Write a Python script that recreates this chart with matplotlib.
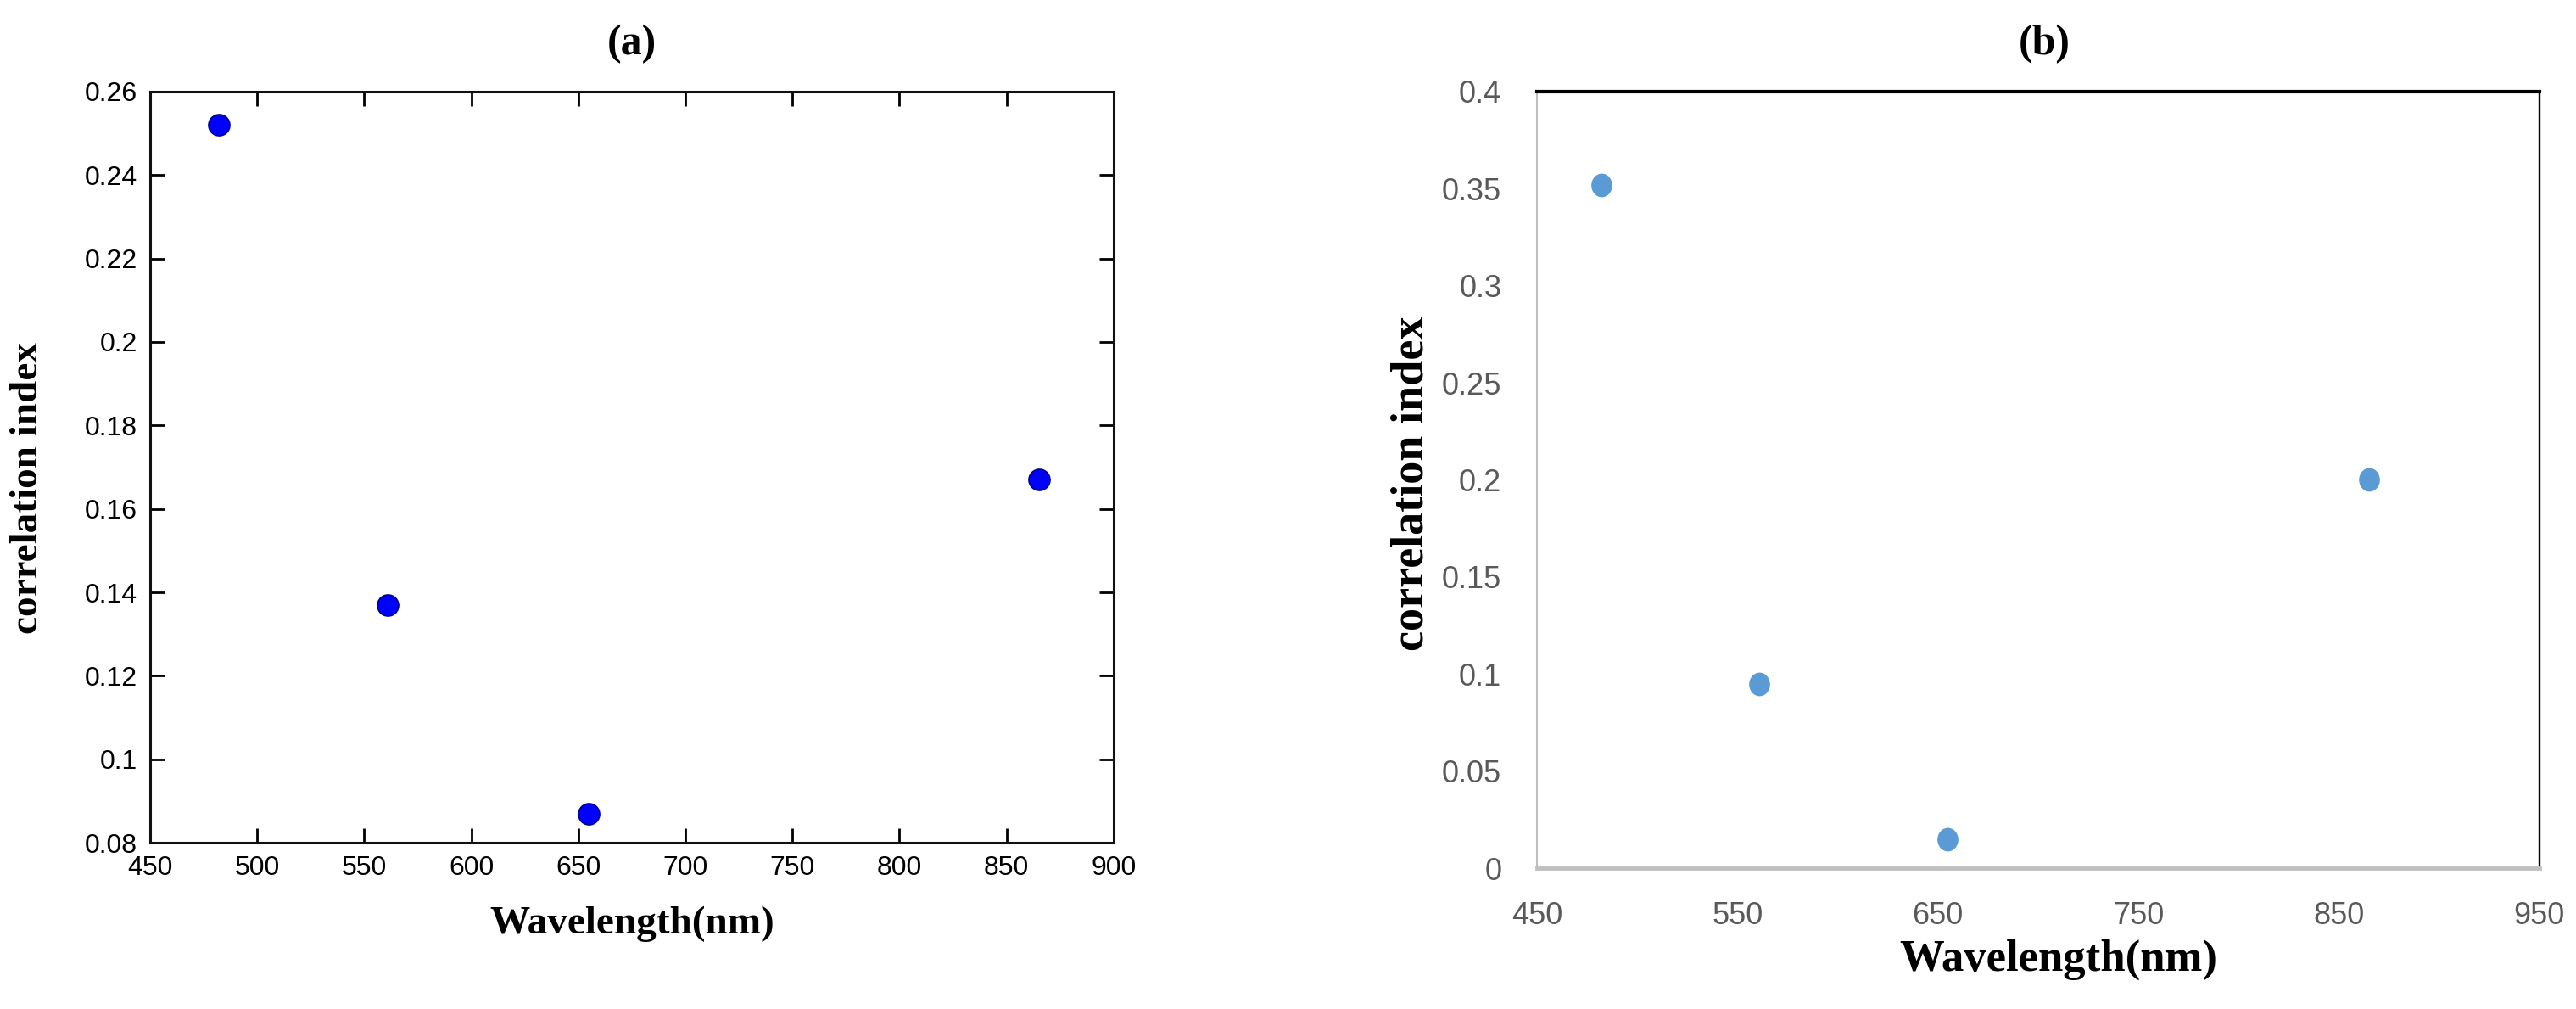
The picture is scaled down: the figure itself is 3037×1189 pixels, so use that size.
import matplotlib.pyplot as plt
from matplotlib.markers import MarkerStyle
from matplotlib.transforms import Affine2D

# wavelengths of the four bands (nm)
wavelength = [482, 561, 655, 865]
# correlation index, panel (a) and panel (b)
corr_a = [0.252, 0.137, 0.087, 0.167]
corr_b = [0.352, 0.095, 0.015, 0.200]

xticks_a = [450, 500, 550, 600, 650, 700, 750, 800, 850, 900]
yticks_a = [0.08, 0.1, 0.12, 0.14, 0.16, 0.18, 0.2, 0.22, 0.24, 0.26]
xticks_b = [450, 550, 650, 750, 850, 950]
yticks_b = [0, 0.05, 0.1, 0.15, 0.2, 0.25, 0.3, 0.35, 0.4]

serif = ['Liberation Serif', 'DejaVu Serif']
sans = ['Liberation Sans', 'DejaVu Sans']

fig = plt.figure(figsize=(30.37, 11.89), dpi=100)
ax1 = fig.add_axes([0.0583, 0.1648, 0.3740, 0.7444])
ax2 = fig.add_axes([0.5966, 0.1396, 0.3892, 0.7696])

# ---- panel (a): MATLAB-like box
ax1.plot(wavelength, corr_a, 'o', markersize=18, markerfacecolor='#0000ff',
         markeredgecolor='#00008b', markeredgewidth=1.2)
ax1.set_xlim(450, 900)
ax1.set_ylim(0.08, 0.26)
ax1.set_xticks(xticks_a)
ax1.set_yticks(yticks_a)
ax1.set_xticklabels([str(v) for v in xticks_a], family=sans, fontsize=23)
ax1.set_yticklabels([f'{v:g}' for v in yticks_a], family=sans, fontsize=23)
ax1.tick_params(direction='in', length=12, width=2, top=True, right=True, pad=11)
for s in ax1.spines.values():
    s.set_linewidth(2.2)
    s.set_color('#111111')
ax1.set_xlabel('Wavelength(nm)', family=serif, fontweight='bold', fontsize=34, va='center')
ax1.xaxis.set_label_coords(0.5, -0.1085)
ax1.set_ylabel('correlation index', family=serif, fontweight='bold', fontsize=34, va='center')
ax1.yaxis.set_label_coords(-0.127, 0.472)

# ---- panel (b): Excel-like
mk = MarkerStyle('o', transform=Affine2D().scale(0.88, 1.0))
ax2.plot(wavelength, corr_b, linestyle='none', marker=mk, markersize=19,
         markerfacecolor='#5b9bd5', markeredgecolor='#5b9bd5')
ax2.set_xlim(450, 950)
ax2.set_ylim(0, 0.4)
ax2.set_xticks(xticks_b)
ax2.set_yticks(yticks_b)
ax2.set_xticklabels([str(v) for v in xticks_b], family=sans, fontsize=26, color='#595959')
ax2.set_yticklabels([f'{v:g}' for v in yticks_b], family=sans, fontsize=26, color='#595959')
ax2.tick_params(length=0, pad=30)
ax2.tick_params(axis='x', pad=28)
ax2.spines['top'].set_linewidth(3)
ax2.spines['top'].set_color('black')
ax2.spines['right'].set_linewidth(1.7)
ax2.spines['right'].set_color('black')
ax2.spines['left'].set_linewidth(1.5)
ax2.spines['left'].set_color('#bfbfbf')
ax2.spines['bottom'].set_linewidth(3.5)
ax2.spines['bottom'].set_color('#c0c0c0')
ax2.set_xlabel('Wavelength(nm)', family=serif, fontweight='bold', fontsize=38, va='center')
ax2.xaxis.set_label_coords(0.52, -0.118)
ax2.set_ylabel('correlation index', family=serif, fontweight='bold', fontsize=39, va='center')
ax2.yaxis.set_label_coords(-0.125, 0.495)

# panel titles
fig.text(0.2453, 0.956, '(a)', family=serif, fontweight='bold', fontsize=36,
         ha='center', va='center')
fig.text(0.7935, 0.956, '(b)', family=serif, fontweight='bold', fontsize=36,
         ha='center', va='center')

plt.savefig('out.png', dpi=100)
